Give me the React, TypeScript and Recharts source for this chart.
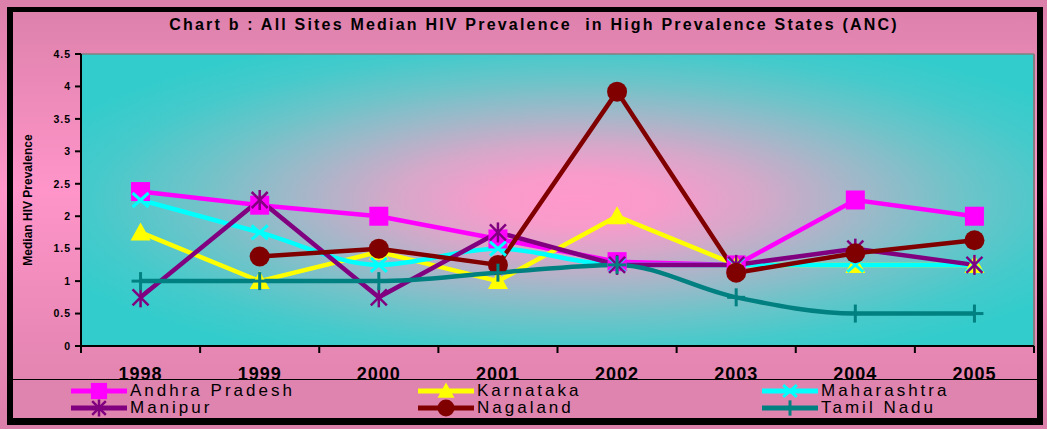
import React from "react";
import { LineChart, Line, XAxis, YAxis, CartesianGrid, ReferenceLine } from "recharts";

const years = ["1998", "1999", "2000", "2001", "2002", "2003", "2004", "2005"];
const andhraPradesh = [2.38, 2.17, 2.0, 1.65, 1.3, 1.25, 2.25, 2.0];
const karnataka = [1.75, 1.0, 1.45, 1.0, 2.0, 1.25, 1.25, 1.25];
const maharashtra = [2.25, 1.75, 1.25, 1.5, 1.25, 1.25, 1.25, 1.25];
const manipur = [0.75, 2.25, 0.75, 1.75, 1.25, 1.25, 1.5, 1.25];
const nagaland = [null, 1.38, 1.5, 1.25, 3.92, 1.13, 1.43, 1.63];
const tamilNadu = [1.0, 1.0, 1.0, 1.13, 1.25, 0.75, 0.5, 0.5];
const yTicks = [0, 0.5, 1, 1.5, 2, 2.5, 3, 3.5, 4, 4.5];

const TITLE = "Chart b : All Sites Median HIV Prevalence  in High Prevalence States (ANC)";
const FONT = "Arial, 'Liberation Sans', sans-serif";

type Shape = "square" | "triangle" | "x" | "star" | "circle" | "plus";

const series: { key: string; name: string; values: (number | null)[]; color: string; shape: Shape; smooth: boolean }[] = [
  { key: "ap", name: "Andhra Pradesh", values: andhraPradesh, color: "#FF00FF", shape: "square", smooth: false },
  { key: "ka", name: "Karnataka", values: karnataka, color: "#FFFF00", shape: "triangle", smooth: false },
  { key: "mh", name: "Maharashtra", values: maharashtra, color: "#00FFFF", shape: "x", smooth: true },
  { key: "mn", name: "Manipur", values: manipur, color: "#800080", shape: "star", smooth: false },
  { key: "ng", name: "Nagaland", values: nagaland, color: "#800000", shape: "circle", smooth: false },
  { key: "tn", name: "Tamil Nadu", values: tamilNadu, color: "#008080", shape: "plus", smooth: true }
];

const data = years.map((year, i) => {
  const row: any = { pos: i + 0.5, year };
  series.forEach((s) => {
    row[s.key] = s.values[i];
  });
  return row;
});

const boundaryTicks = [...years.map((_, i) => i), years.length];
const centerTicks = years.map((_, i) => i + 0.5);

const Marker = ({ shape, color, cx, cy, k = 1 }: { shape: Shape; color: string; cx: number; cy: number; k?: number }) => {
  switch (shape) {
    case "square":
      return <rect x={cx - 9.5 * k} y={cy - 9.5 * k} width={19 * k} height={19 * k} fill={color} />;
    case "triangle":
      return (
        <polygon
          points={`${cx},${cy - 10 * k} ${cx + 10 * k},${cy + 8 * k} ${cx - 10 * k},${cy + 8 * k}`}
          fill={color}
        />
      );
    case "x":
      return (
        <g stroke={color} strokeWidth={3}>
          <line x1={cx - 8 * k} y1={cy - 7 * k} x2={cx + 8 * k} y2={cy + 7 * k} />
          <line x1={cx - 8 * k} y1={cy + 7 * k} x2={cx + 8 * k} y2={cy - 7 * k} />
        </g>
      );
    case "star":
      return (
        <g stroke={color} strokeWidth={2.5}>
          <line x1={cx - 8 * k} y1={cy - 8 * k} x2={cx + 8 * k} y2={cy + 8 * k} />
          <line x1={cx - 8 * k} y1={cy + 8 * k} x2={cx + 8 * k} y2={cy - 8 * k} />
          <line x1={cx} y1={cy - 10 * k} x2={cx} y2={cy + 10 * k} />
        </g>
      );
    case "circle":
      return <circle cx={cx} cy={cy} r={10 * k} fill={color} />;
    case "plus":
    default:
      return (
        <g stroke={color} strokeWidth={3}>
          <line x1={cx} y1={cy - 9 * k} x2={cx} y2={cy + 9 * k} />
          <line x1={cx - 9 * k} y1={cy} x2={cx + 9 * k} y2={cy} />
        </g>
      );
  }
};

const makeDot = (shape: Shape, color: string) => (props: any) => {
  const { cx, cy, index, value } = props;
  if (value == null || cx == null || cy == null) return <g key={`none-${index}`} />;
  return (
    <g key={`${shape}-${index}`}>
      <Marker shape={shape} color={color} cx={cx} cy={cy} />
    </g>
  );
};

// year labels sit on the legend's top rule, as in the original
const YearTick = (props: any) => {
  const { x, payload } = props;
  return (
    <text
      x={x}
      y={380}
      textAnchor="middle"
      fontFamily={FONT}
      fontWeight="bold"
      fontSize={18}
      fill="#000"
      style={{ letterSpacing: 1 }}
    >
      {years[Math.floor(payload.value)]}
    </text>
  );
};

export default function App() {
  return (
    <div
      style={{
        position: "absolute",
        left: 0,
        top: 0,
        width: 1047,
        height: 429,
        overflow: "hidden",
        background: "linear-gradient(to bottom, #db80aa 0%, #ff95c9 44%, #db80aa 100%)",
        fontFamily: FONT
      }}
    >
      <svg width={0} height={0} style={{ position: "absolute" }}>
        <defs>
          <radialGradient id="plotBg" cx="0.52" cy="0.5" r="0.6" fx="0.52" fy="0.5">
            <stop offset="0" stopColor="#ff99cc" />
            <stop offset="0.15" stopColor="#f89bcb" />
            <stop offset="0.32" stopColor="#d5a8c9" />
            <stop offset="0.5" stopColor="#a0b8c9" />
            <stop offset="0.68" stopColor="#6cc4c9" />
            <stop offset="0.85" stopColor="#45cacb" />
            <stop offset="1" stopColor="#33cccc" />
          </radialGradient>
        </defs>
      </svg>

      <div style={{ position: "absolute", left: 0, top: 0 }}>
        <LineChart width={1047} height={429} data={data} margin={{ top: 54, right: 13, left: 21, bottom: 63 }}>
          <CartesianGrid xAxisId="cat" horizontal={false} vertical={false} fill="url(#plotBg)" />
          <XAxis
            xAxisId="cat"
            dataKey="pos"
            type="number"
            domain={[0, years.length]}
            ticks={boundaryTicks}
            tickFormatter={() => ""}
            tickSize={7}
            height={10}
            axisLine={{ stroke: "#000", strokeWidth: 2 }}
            tickLine={{ stroke: "#000", strokeWidth: 2 }}
          />
          <XAxis
            xAxisId="lbl"
            dataKey="pos"
            type="number"
            domain={[0, years.length]}
            ticks={centerTicks}
            axisLine={false}
            tickLine={false}
            tick={YearTick}
            height={10}
          />
          <YAxis
            domain={[0, 4.5]}
            ticks={yTicks}
            width={60}
            tickSize={6}
            tickMargin={4}
            axisLine={{ stroke: "#000", strokeWidth: 2 }}
            tickLine={{ stroke: "#000", strokeWidth: 2 }}
            tick={{ fill: "#000", fontSize: 10.5, fontWeight: "bold", fontFamily: FONT, letterSpacing: 1 }}
            label={{
              value: "Median HIV Prevalence",
              angle: -90,
              position: "insideLeft",
              offset: 7,
              style: { fontSize: 12, fontWeight: "bold", fontFamily: FONT, fill: "#000", textAnchor: "middle" }
            }}
          />
          <ReferenceLine xAxisId="cat" y={4.5} stroke="#808080" strokeWidth={1.5} />
          <ReferenceLine xAxisId="cat" x={years.length} stroke="#808080" strokeWidth={2} />
          {series.map((s) => (
            <Line
              key={s.key}
              xAxisId="cat"
              dataKey={s.key}
              name={s.name}
              type={s.smooth ? "monotone" : "linear"}
              stroke={s.color}
              strokeWidth={4.5}
              dot={makeDot(s.shape, s.color)}
              activeDot={false}
              isAnimationActive={false}
            />
          ))}
        </LineChart>
      </div>

      {/* outer frame */}
      <div
        style={{
          position: "absolute",
          left: 7,
          top: 7,
          width: 1036,
          height: 418,
          boxSizing: "border-box",
          borderStyle: "solid",
          borderColor: "#000",
          borderWidth: "5px 6px 7px 6px",
          pointerEvents: "none"
        }}
      />

      {/* legend box */}
      <div
        style={{
          position: "absolute",
          left: 13,
          top: 379,
          width: 1024,
          height: 39,
          boxSizing: "border-box",
          borderTop: "1.5px solid #000",
          background: "#de84ae"
        }}
      />
      {series.map((s, i) => {
        const colLeft = [70, 417, 761][i % 3];
        const rowMid = [391, 408][Math.floor(i / 3)];
        return (
          <div
            key={s.key}
            style={{ position: "absolute", left: colLeft, top: rowMid - 10, height: 20, display: "flex", alignItems: "center" }}
          >
            <svg width={58} height={20} style={{ display: "block" }}>
              <line x1={1} y1={10} x2={57} y2={10} stroke={s.color} strokeWidth={5} />
              <Marker shape={s.shape} color={s.color} cx={29} cy={10} k={0.85} />
            </svg>
            <span style={{ marginLeft: 2, fontSize: 17, letterSpacing: 3, color: "#000", lineHeight: "20px", whiteSpace: "nowrap" }}>
              {s.name}
            </span>
          </div>
        );
      })}

      <div
        style={{
          position: "absolute",
          left: 0,
          width: 1068,
          top: 15,
          textAlign: "center",
          fontSize: 16,
          fontWeight: "bold",
          letterSpacing: 2.2,
          whiteSpace: "pre",
          color: "#000",
          lineHeight: "20px"
        }}
      >
        {TITLE}
      </div>
    </div>
  );
}
